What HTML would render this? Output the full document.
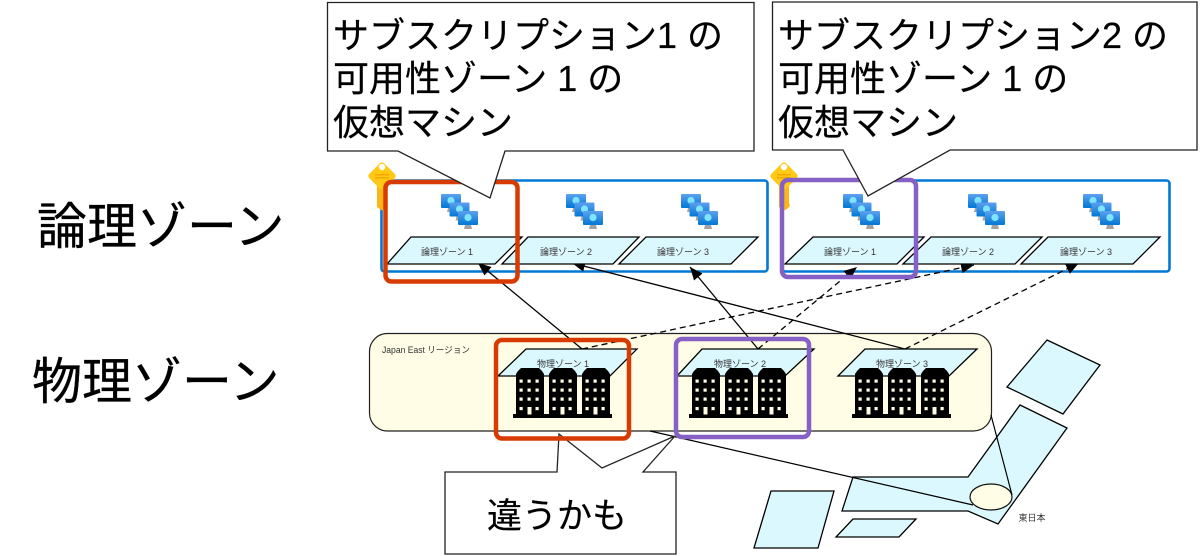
<!DOCTYPE html>
<html lang="ja"><head><meta charset="utf-8"><title>論理ゾーンと物理ゾーン</title>
<style>
html,body{margin:0;padding:0;background:#fff;width:1200px;height:556px;overflow:hidden}
svg{display:block}
text{font-family:"Liberation Sans","Noto Sans CJK JP",sans-serif;fill:#000}
.s{font-size:9px;fill:#333;text-anchor:middle}
.b{font-size:36px;stroke:#000;stroke-width:.2px}
.l{font-size:50px;stroke:#000;stroke-width:.3px}
.p{fill:#dcf8ff;stroke:#000;stroke-width:1.3}
.c{fill:#fff;stroke:#222;stroke-width:1.3}
.a{stroke:#000;stroke-width:1.3;fill:none;marker-end:url(#h)}
.d{stroke-dasharray:6 4}
</style></head><body>
<svg width="1200" height="556" viewBox="0 0 1200 556" xmlns="http://www.w3.org/2000/svg">
<defs>
<marker id="h" markerUnits="userSpaceOnUse" markerWidth="14" markerHeight="12" refX="13" refY="5.500" orient="auto"><path d="M0 0L13 5.500L0 11Z" fill="#000"/></marker>
<linearGradient id="m" x1="0" y1="0" x2="0" y2="1"><stop offset="0" stop-color="#5ea0ef"/><stop offset="1" stop-color="#0078d4"/></linearGradient>
<g id="mon"><path d="M7 14H13L14 18H6Z" fill="#a3a3a3"/><rect x="0" y="0" width="20" height="14" rx="1" fill="url(#m)"/><circle cx="10" cy="6.5" r="3.6" fill="#7fe4ff"/></g>
<g id="vm"><use href="#mon"/><use href="#mon" x="8.5" y="8.5"/><use href="#mon" x="17" y="17"/></g>
<g id="key"><path d="M-5 8H5V27L6 29L5 31L3 33L0 34.500L-5 31Z" fill="#fbb516"/><rect x="-10.500" y="-10.500" width="21" height="21" rx="3" transform="rotate(45)" fill="#ffc916"/><circle cx="0" cy="-9" r="3.2" fill="#fff"/><rect x="-7" y="-2" width="14" height="1.500" fill="#f7a800"/><rect x="-7" y="1" width="14" height="1.500" fill="#f7a800"/></g>
<g id="bld">
<path d="M3 47V6L5 3L8 0H26L29 3L31 6V47Z" fill="#000"/><rect x="0" y="46" width="33" height="4" fill="#000"/>
<g fill="#fffde5">
<rect x="6.500" y="11.500" width="3.200" height="3.200"/><rect x="14.500" y="11.500" width="3.200" height="3.200"/><rect x="22.500" y="11.500" width="3.200" height="3.200"/>
<rect x="6.500" y="20.500" width="3.200" height="3.200"/><rect x="14.500" y="20.500" width="3.200" height="3.200"/><rect x="22.500" y="20.500" width="3.200" height="3.200"/>
<rect x="6.500" y="29.500" width="3.200" height="3.200"/><rect x="14.500" y="29.500" width="3.200" height="3.200"/><rect x="22.500" y="29.500" width="3.200" height="3.200"/>
<rect x="6.500" y="39" width="3.200" height="3.200"/><rect x="14.500" y="39" width="4" height="7.500"/><rect x="22.500" y="39" width="3.200" height="3.200"/>
</g></g>
<g id="tri"><use href="#bld"/><use href="#bld" x="33"/><use href="#bld" x="66"/></g>
</defs>

<text class="l" x="37" y="244">論理ゾーン</text>
<text class="l" x="32" y="399">物理ゾーン</text>

<rect x="381.500" y="180.500" width="386" height="91" rx="3" fill="#fff" stroke="#0078d4" stroke-width="2.600"/>
<rect x="782.500" y="180.500" width="387" height="91" rx="3" fill="#fff" stroke="#0078d4" stroke-width="2.600"/>
<use href="#key" x="382" y="176"/><use href="#key" x="784" y="176"/>
<use href="#vm" x="441" y="194"/><use href="#vm" x="566" y="194"/><use href="#vm" x="681" y="194"/>
<use href="#vm" x="843" y="194"/><use href="#vm" x="968" y="194"/><use href="#vm" x="1083" y="194"/>

<rect x="369.500" y="333.500" width="622" height="97.500" rx="18" fill="#fffde5" stroke="#222" stroke-width="1.200"/>
<text x="382" y="353" textLength="88" lengthAdjust="spacingAndGlyphs" style="font-size:9px;fill:#333">Japan East リージョン</text>

<g class="p">
<polygon points="1047,340 1100,365 1063,414 1007,387"/>
<polygon points="853,477 968,477 1020,405 1067,428 998,524 968,511 842,511"/>
<polygon points="771,491 834,491 818,548 754,548"/>
<polygon points="853,519 916,519 899,537 836,537"/>
</g>
<ellipse cx="991" cy="497" rx="21" ry="13" fill="#fffde5" stroke="#111" stroke-width="1.200"/>
<line x1="650" y1="431" x2="973" y2="505" stroke="#000" stroke-width="1.200"/>
<line x1="991" y1="415" x2="1012" y2="495" stroke="#000" stroke-width="1.200"/>
<text class="s" x="1032" y="521">東日本</text>

<line class="a" x1="582" y1="349" x2="478" y2="263"/>
<line class="a" x1="905" y1="349" x2="572" y2="263"/>
<line class="a" x1="758" y1="349" x2="690" y2="267"/>
<line class="a d" x1="582" y1="349" x2="974" y2="265"/>
<line class="a d" x1="758" y1="349" x2="857" y2="267"/>
<line class="a d" x1="905" y1="349" x2="1079" y2="263"/>

<g class="p">
<polygon points="387,264 411,237 522,237 495,264"/>
<polygon points="502,264 528,237 639,237 613,264"/>
<polygon points="619,264 646,237 758,237 731,264"/>
<polygon points="785,264 813,237 924,237 897,264"/>
<polygon points="903,264 931,237 1042,237 1015,264"/>
<polygon points="1021,264 1048,237 1160,237 1133,264"/>
<polygon points="498,376 526,349 637,349 610,376"/>
<polygon points="677,376 702,349 814,349 785,376"/>
<polygon points="838,376 865,349 977,349 949,376"/>
</g>
<text class="s" x="447" y="255">論理ゾーン 1</text>
<text class="s" x="566" y="255">論理ゾーン 2</text>
<text class="s" x="683" y="255">論理ゾーン 3</text>
<text class="s" x="850" y="255">論理ゾーン 1</text>
<text class="s" x="968" y="255">論理ゾーン 2</text>
<text class="s" x="1086" y="255">論理ゾーン 3</text>
<text class="s" x="563" y="367">物理ゾーン 1</text>
<text class="s" x="740" y="367">物理ゾーン 2</text>
<text class="s" x="902" y="367">物理ゾーン 3</text>
<use href="#tri" x="513" y="368"/><use href="#tri" x="689" y="368"/><use href="#tri" x="852" y="368"/>

<polygon class="c" points="445,472 557,472 559,434 602,468 675,436 643,472 676,472 676,554 445,554"/>
<text x="487" y="528" style="font-size:35px;stroke:#000;stroke-width:.2px">違うかも</text>

<rect x="385.500" y="182" width="132" height="99.500" rx="6" fill="none" stroke="#d83b01" stroke-width="4.500"/>
<rect x="782" y="180" width="134" height="97" rx="6" fill="none" stroke="#8661c5" stroke-width="4.500"/>
<rect x="496" y="340" width="133" height="98.500" rx="6" fill="none" stroke="#d83b01" stroke-width="4.500"/>
<rect x="676" y="339" width="133" height="98" rx="6" fill="none" stroke="#8661c5" stroke-width="4.500"/>

<polygon class="c" points="327.500,2.500 754,2.500 754,151 505,151 490,198 398,151 327.500,151"/>
<text class="b" x="333" y="48">サブスクリプション1 の</text>
<text class="b" x="333" y="91">可用性ゾーン 1 の</text>
<text class="b" x="333" y="135">仮想マシン</text>

<polygon class="c" points="772.500,2 1197,2 1197,150 950,150 868,196 843,150 772.500,150"/>
<text class="b" x="778" y="48">サブスクリプション2 の</text>
<text class="b" x="778" y="91">可用性ゾーン 1 の</text>
<text class="b" x="778" y="135">仮想マシン</text>
</svg>
</body></html>
